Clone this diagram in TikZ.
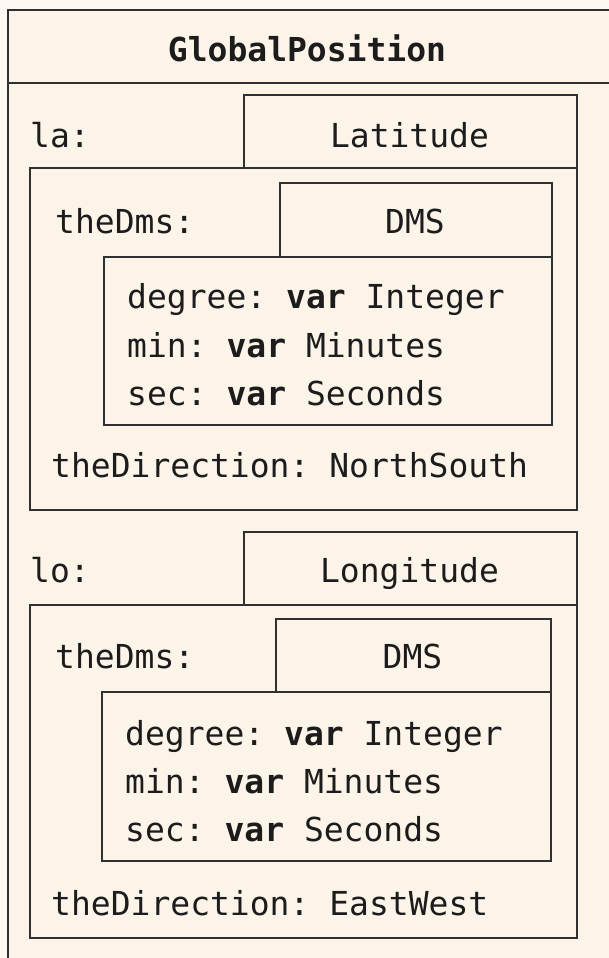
\documentclass[tikz,border=0pt]{standalone}
\usepackage{fontspec}
\setmonofont{DejaVu Sans Mono}
\definecolor{page}{RGB}{253,248,242}
\definecolor{paper}{RGB}{252,244,233}
\definecolor{ink}{RGB}{28,28,28}
\definecolor{rule}{RGB}{48,48,48}
\tikzset{
  frame/.style={draw=rule, line width=1.5pt, inner sep=0pt, anchor=north west},
  txt/.style={anchor=base west, inner sep=0pt, text=ink,
              font=\ttfamily\fontsize{33}{40}\selectfont},
  ctxt/.style={txt, anchor=base},
}
\newcommand{\kw}[1]{\textbf{#1}}
\begin{document}
\begin{tikzpicture}[x=1pt,y=-1pt]
  \path[use as bounding box, fill=page] (0,0) rectangle (609,958);

  % class frame with its header compartment
  \begin{scope}
    \clip (0,0) rectangle (609,958);
    \draw[fill=paper, draw=rule, line width=2pt] (8,10) rectangle (622,990);
    \draw[rule, line width=2pt] (8,83) -- (622,83);
  \end{scope}
  \node[ctxt, font=\ttfamily\bfseries\fontsize{33}{40}\selectfont] (title) at (307,62) {GlobalPosition};

  % attribute la : Latitude
  \node[frame, minimum width=547pt, minimum height=342pt] (laBody) at (29,167) {};
  \node[frame, minimum width=333pt, minimum height=73pt] (laTab) at (243,94) {};
  \node[txt] (laName) at (30,147) {la:};
  \node[ctxt] (laType) at (409.5,147) {Latitude};

  \node[frame, minimum width=448pt, minimum height=168pt] (laDmsBody) at (103,256) {};
  \node[frame, minimum width=272pt, minimum height=74pt] (laDmsTab) at (279,182) {};
  \node[txt] (laDmsName) at (55,233) {theDms:};
  \node[ctxt] (laDmsType) at (415,233) {DMS};
  \node[txt] (laDeg) at (127,308) {degree: \kw{var} Integer};
  \node[txt] (laMin) at (127,357) {min: \kw{var} Minutes};
  \node[txt] (laSec) at (127,405) {sec: \kw{var} Seconds};
  \node[txt] (laDir) at (51,477) {theDirection: NorthSouth};

  % attribute lo : Longitude
  \node[frame, minimum width=547pt, minimum height=333pt] (loBody) at (29,604) {};
  \node[frame, minimum width=333pt, minimum height=73pt] (loTab) at (243,531) {};
  \node[txt] (loName) at (30,582) {lo:};
  \node[ctxt] (loType) at (409.5,582) {Longitude};

  \node[frame, minimum width=449pt, minimum height=169pt] (loDmsBody) at (101,691) {};
  \node[frame, minimum width=275pt, minimum height=73pt] (loDmsTab) at (275,618) {};
  \node[txt] (loDmsName) at (55,668) {theDms:};
  \node[ctxt] (loDmsType) at (412.5,668) {DMS};
  \node[txt] (loDeg) at (125,745) {degree: \kw{var} Integer};
  \node[txt] (loMin) at (125,793) {min: \kw{var} Minutes};
  \node[txt] (loSec) at (125,841) {sec: \kw{var} Seconds};
  \node[txt] (loDir) at (51,915) {theDirection: EastWest};
\end{tikzpicture}
\end{document}
